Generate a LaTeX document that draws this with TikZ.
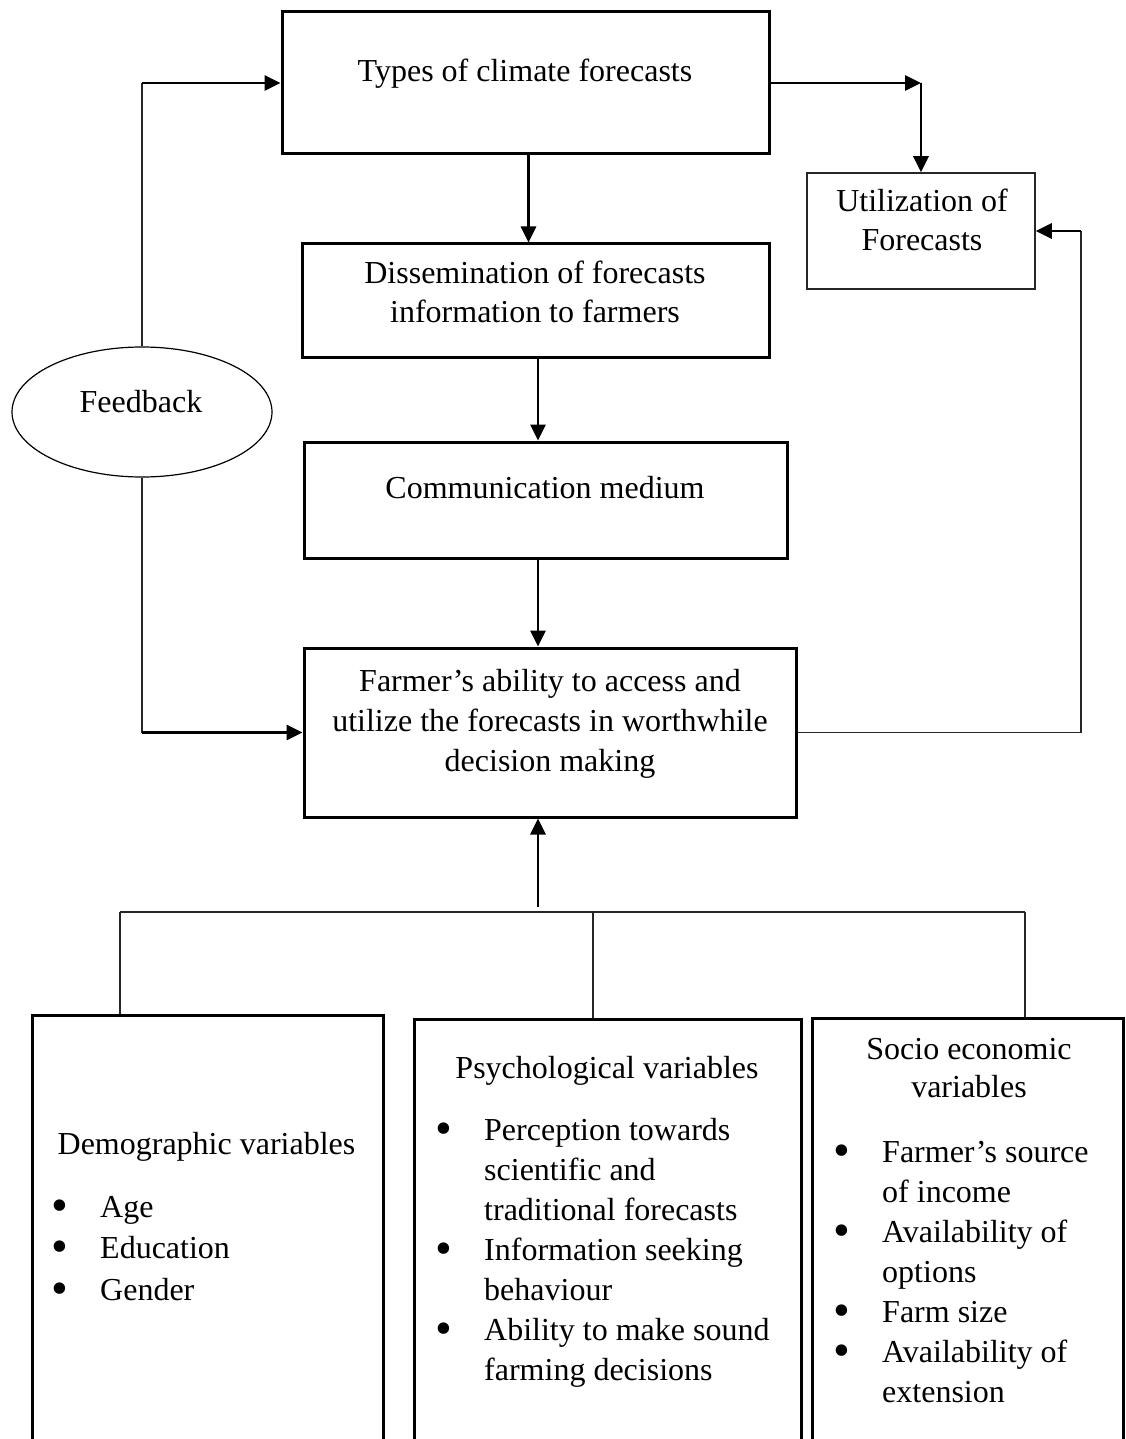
\documentclass[tikz,border=0pt]{standalone}
\usepackage{fontspec}
\setmainfont{Liberation Serif}
\usepackage{graphicx}
\usepackage{tikz}
\usetikzlibrary{arrows.meta,shapes.geometric}

\newcommand{\bul}{\makebox[47pt][l]{\hspace*{-1.5pt}\smash{\raisebox{-4pt}{\scalebox{1.5}{\textbullet}}}}}
\newcommand{\ind}{\hspace*{47pt}}

\begin{document}
\begin{tikzpicture}[
        x=1pt, y=-1pt,
        font=\fontsize{32}{40}\selectfont,
        box/.style={draw=black, line width=3pt, inner sep=0pt},
        thinbox/.style={draw=black!85, line width=1.5pt, inner sep=0pt},
        txt/.style={inner sep=0pt, anchor=base, align=center},
        lst/.style={inner sep=0pt, anchor=base west, align=left},
        arr/.style={line width=2.8pt, -{Triangle[length=16pt,width=15pt]}},
        link/.style={line width=1.4pt, black!85}
    ]
    \path[use as bounding box] (0,0) rectangle (1126,1439);
    \clip (0,0) rectangle (1126,1439);

    % ---- Forecast chain (text nodes sit on their last baseline) ----
    \node[box, minimum width=487pt, minimum height=142pt] (types) at (525.5,83) {};
    \node[txt] (typestxt) at (525,82) {Types of climate forecasts};
    \node[thinbox, minimum width=228pt, minimum height=116pt] (util) at (921,231) {};
    \node[txt] (utiltxt) at (922,251) {Utilization of\\[-1pt]Forecasts};
    \node[box, minimum width=467pt, minimum height=113pt] (dissem) at (535.5,300.5) {};
    \node[txt] (dissemtxt) at (535,322) {Dissemination of forecasts\\[-1pt]information to farmers};
    \node[box, minimum width=483pt, minimum height=116pt] (comm) at (545.5,500) {};
    \node[txt] (commtxt) at (545,498) {Communication medium};
    \node[box, minimum width=492pt, minimum height=169pt] (farmer) at (550,732.5) {};
    \node[txt] (farmertxt) at (550,771) {Farmer's ability to access and\\utilize the forecasts in worthwhile\\decision making};
    \node[ellipse, draw, line width=1.2pt, minimum width=260pt, minimum height=130pt, inner sep=0pt] (feedback) at (142,412) {};
    \node[txt] (feedbacktxt) at (141,412) {Feedback};

    % ---- Variable boxes ----
    \node[box, minimum width=351pt, minimum height=445pt] (demo) at (207.5,1237.5) {};
    \node[txt] (demotitle) at (206.5,1154) {Demographic variables};
    \node[lst] (demolist) at (53,1300) {\bul Age\\[1.5pt]\bul Education\\[1.5pt]\bul Gender};
    \node[box, minimum width=387pt, minimum height=441pt] (psych) at (607.5,1239.5) {};
    \node[txt] (psychtitle) at (607,1078) {Psychological variables};
    \node[lst] (psychlist) at (437,1380) {\bul Perception towards\\\ind scientific and\\\ind traditional forecasts\\\bul Information seeking\\\ind behaviour\\\bul Ability to make sound\\\ind farming decisions};
    \node[box, minimum width=311pt, minimum height=442pt] (socio) at (967.5,1239) {};
    \node[txt] (sociotitle) at (969,1097) {Socio economic\\[-2pt]variables};
    \node[lst] (sociolist) at (835,1402) {\bul Farmer's source\\\ind of income\\\bul Availability of\\\ind options\\\bul Farm size\\\bul Availability of\\\ind extension};

    % ---- Connectors ----
    \coordinate (spine) at (538,0);
    \coordinate (stem) at (538,907);
    \coordinate (retcorner) at (1081,0);
    \coordinate (barL) at (120,912);
    \coordinate (barM) at (593,912);
    \coordinate (barR) at (1025,912);

    \draw[arr] (types.east) -- (util.north |- types.east);
    \draw[arr] (util.north |- types.east) -- (util.north);
    \draw[arr] ([xshift=3pt]types.south) -- ([xshift=3pt]types.south |- dissem.north);
    \draw[arr] (spine |- dissem.south) -- (spine |- comm.north);
    \draw[arr] (spine |- comm.south) -- (spine |- farmer.north);
    \draw[arr] (stem) -- (spine |- farmer.south);

    \draw[link] (feedback.north) -- (feedback.north |- types.west);
    \draw[arr] (feedback.north |- types.west) -- (types.west);
    \draw[link] (feedback.south) -- (feedback.south |- farmer.west);
    \draw[arr] (feedback.south |- farmer.west) -- (farmer.west);

    \draw[link] (farmer.east) -- (retcorner |- farmer.east) -- (retcorner |- util.east);
    \draw[arr] (retcorner |- util.east) -- (util.east);

    \draw[link] (barL) -- (barR);
    \draw[link] (barL) -- (barL |- demo.north);
    \draw[link] (barM) -- (barM |- psych.north);
    \draw[link] (barR) -- (barR |- socio.north);
\end{tikzpicture}
\end{document}
